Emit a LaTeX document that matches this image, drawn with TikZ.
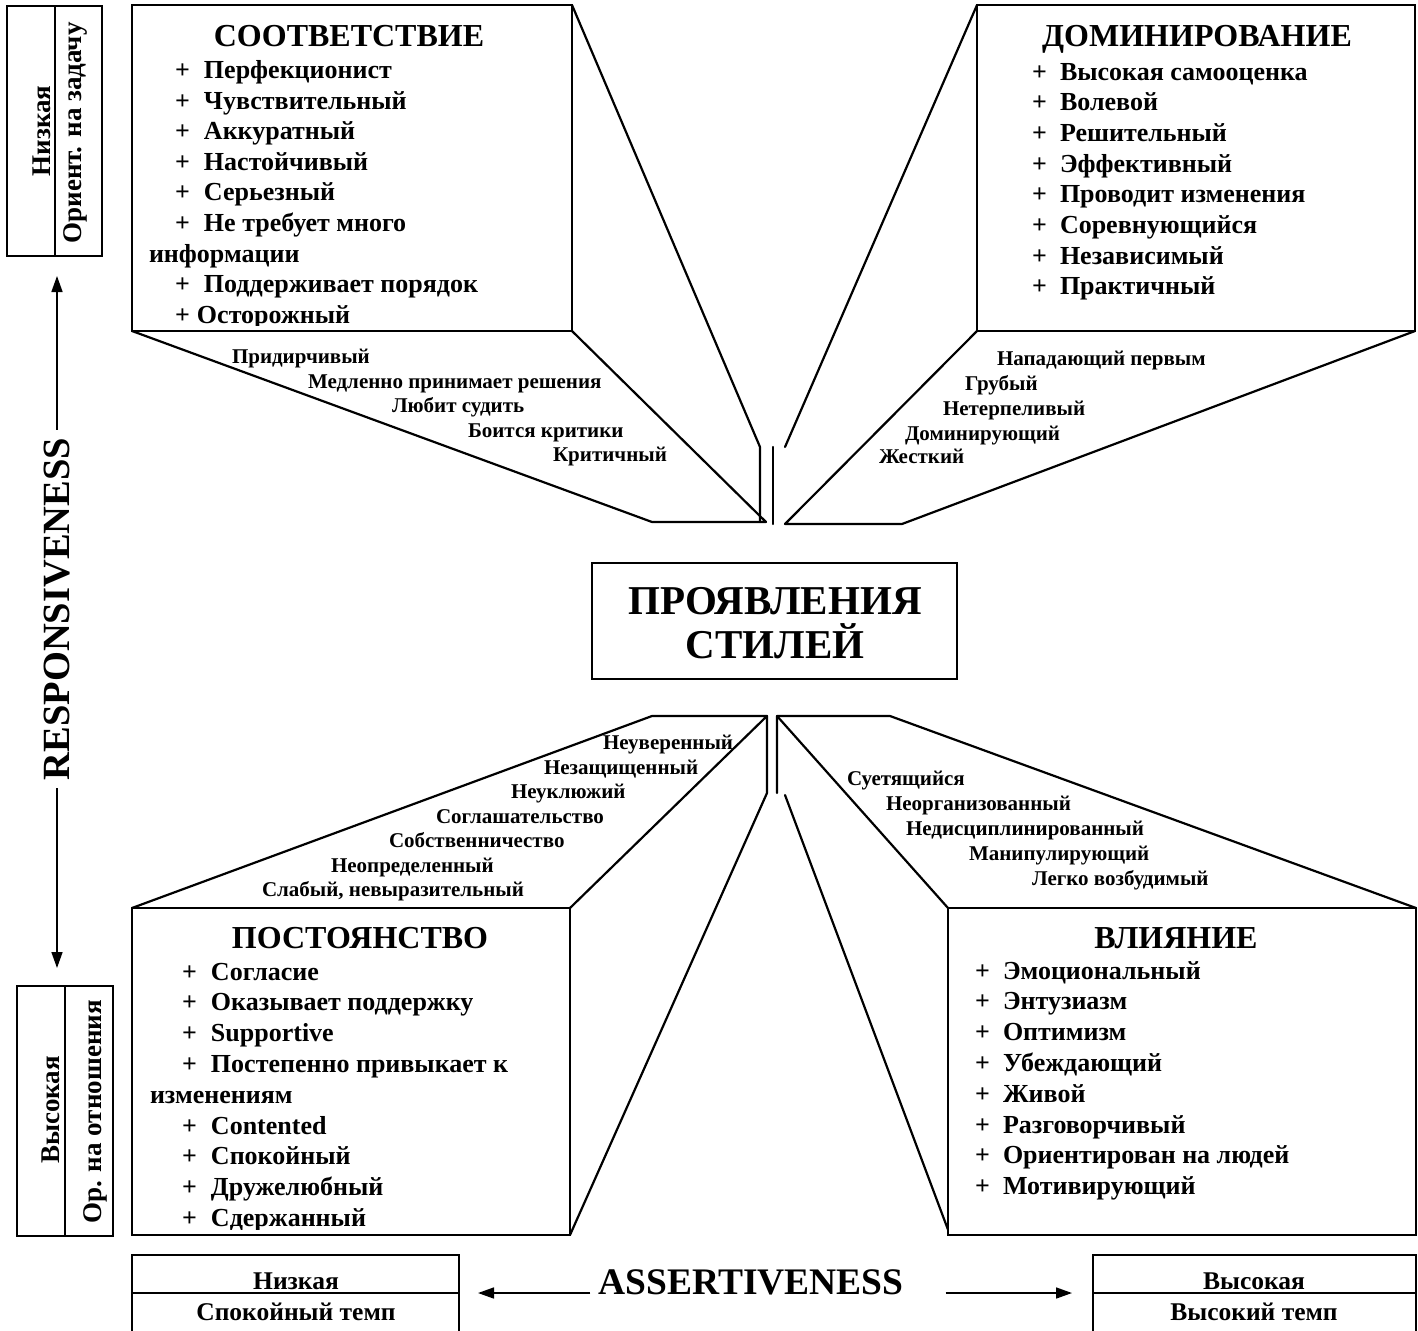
\documentclass[tikz,border=0pt]{standalone}
\usepackage{fontspec}
\setmainfont{Liberation Serif}
\usetikzlibrary{arrows.meta}
\newcommand{\plusw}[1]{\makebox[#1][l]{+}}
\begin{document}
\begin{tikzpicture}[x=1pt,y=-1pt,
  every node/.style={inner sep=0pt, outer sep=0pt},
  ln/.style={line width=2.2pt, line cap=round, line join=round},
  frame/.style={draw, line width=2.6pt},
  thin/.style={draw, line width=1.6pt},
  item/.style={font=\fontsize{26}{30}\selectfont\bfseries, anchor=base west},
  lbl/.style={font=\fontsize{21}{24}\selectfont\bfseries, anchor=base west},
  head/.style={font=\fontsize{32}{36}\selectfont\bfseries, anchor=base},
  ax/.style={font=\fontsize{37.5}{40}\selectfont\bfseries, anchor=base},
  side/.style={font=\fontsize{27}{30}\selectfont\bfseries, rotate=90, anchor=base},
  foot/.style={font=\fontsize{25.5}{28}\selectfont\bfseries, anchor=base},
  arr/.style={line width=1.6pt, -{Triangle[length=16pt,width=11pt]}}
]
\useasboundingbox (0,0) rectangle (1418,1330);

% ---------- perspective lines ----------
% top-left
\draw[ln] (132,331) -- (652,522) -- (766,522) -- (572,331);
\draw[ln] (572,5) -- (760,447) -- (760,522);
% top-right
\draw[ln] (977,5) -- (785,447);
\draw[ln] (773,447) -- (773,524);
\draw[ln] (977,331) -- (785,524) -- (902,524) -- (1415,331);
% bottom-left
\draw[ln] (132,908) -- (652,716) -- (767,716) -- (570,908);
\draw[ln] (767,716) -- (767,793) -- (570,1235);
% bottom-right
\draw[ln] (777,793) -- (777,716) -- (890,716) -- (1416,908);
\draw[ln] (777,716) -- (948,908);
\draw[ln] (785,795) -- (950,1235);

% ---------- main boxes ----------
\draw[frame, fill=white] (132,5) rectangle (572,331);
\draw[frame, fill=white] (977,5) rectangle (1415,331);
\draw[frame, fill=white] (132,908) rectangle (570,1235);
\draw[frame, fill=white] (948,908) rectangle (1416,1235);
\draw[frame] (592,563) rectangle (957,679);

% ---------- top-left box text ----------
\begin{scope}
\clip (132,5) rectangle (572,325);
\node[head] (cH) at (349,46.7) {СООТВЕТСТВИЕ};
\node[item] (c1) at (175,78.5) {\plusw{29pt}Перфекционист};
\node[item] (c2) at (175,109.1) {\plusw{29pt}Чувствительный};
\node[item] (c3) at (175,139.7) {\plusw{29pt}Аккуратный};
\node[item] (c4) at (175,170.3) {\plusw{29pt}Настойчивый};
\node[item] (c5) at (175,200.9) {\plusw{29pt}Серьезный};
\node[item] (c6) at (175,231.5) {\plusw{29pt}Не требует много};
\node[item] (c7) at (149,262.1) {информации};
\node[item] (c8) at (175,292.7) {\plusw{29pt}Поддерживает порядок};
\node[item] (c9) at (175,323.3) {\plusw{22pt}Осторожный};
\end{scope}

% ---------- top-right box text ----------
\node[head] (dH) at (1197,46.7) {ДОМИНИРОВАНИЕ};
\node[item] (d1) at (1032,80) {\plusw{28pt}Высокая самооценка};
\node[item] (d2) at (1032,110.7) {\plusw{28pt}Волевой};
\node[item] (d3) at (1032,141.4) {\plusw{28pt}Решительный};
\node[item] (d4) at (1032,172.1) {\plusw{28pt}Эффективный};
\node[item] (d5) at (1032,202.8) {\plusw{28pt}Проводит изменения};
\node[item] (d6) at (1032,233.5) {\plusw{28pt}Соревнующийся};
\node[item] (d7) at (1032,264.2) {\plusw{28pt}Независимый};
\node[item] (d8) at (1032,294.9) {\plusw{28pt}Практичный};

% ---------- bottom-left box text ----------
\begin{scope}
\clip (132,908) rectangle (570,1229);
\node[head] (pH) at (360,948) {ПОСТОЯНСТВО};
\node[item] (p1) at (182,980) {\plusw{29pt}Согласие};
\node[item] (p2) at (182,1010.8) {\plusw{29pt}Оказывает поддержку};
\node[item] (p3) at (182,1041.6) {\plusw{29pt}Supportive};
\node[item] (p4) at (182,1072.4) {\plusw{29pt}Постепенно привыкает к};
\node[item] (p5) at (150,1103.2) {изменениям};
\node[item] (p6) at (182,1134) {\plusw{29pt}Contented};
\node[item] (p7) at (182,1164.8) {\plusw{29pt}Спокойный};
\node[item] (p8) at (182,1195.6) {\plusw{29pt}Дружелюбный};
\node[item] (p9) at (182,1226.4) {\plusw{29pt}Сдержанный};
\end{scope}

% ---------- bottom-right box text ----------
\node[head] (vH) at (1176,948) {ВЛИЯНИЕ};
\node[item] (v1) at (975,979) {\plusw{28pt}Эмоциональный};
\node[item] (v2) at (975,1009.8) {\plusw{28pt}Энтузиазм};
\node[item] (v3) at (975,1040.6) {\plusw{28pt}Оптимизм};
\node[item] (v4) at (975,1071.4) {\plusw{28pt}Убеждающий};
\node[item] (v5) at (975,1102.2) {\plusw{28pt}Живой};
\node[item] (v6) at (975,1133) {\plusw{28pt}Разговорчивый};
\node[item] (v7) at (975,1163.8) {\plusw{28pt}Ориентирован на людей};
\node[item] (v8) at (975,1194.6) {\plusw{28pt}Мотивирующий};

% ---------- trapezoid labels ----------
\node[lbl] (tl1) at (232,363) {Придирчивый};
\node[lbl] (tl2) at (308,388) {Медленно принимает решения};
\node[lbl] (tl3) at (392,412) {Любит судить};
\node[lbl] (tl4) at (468,437) {Боится критики};
\node[lbl] (tl5) at (553,461) {Критичный};

\node[lbl] (tr1) at (997,365) {Нападающий первым};
\node[lbl] (tr2) at (965,390) {Грубый};
\node[lbl] (tr3) at (943,415) {Нетерпеливый};
\node[lbl] (tr4) at (905,440) {Доминирующий};
\node[lbl] (tr5) at (879,463) {Жесткий};

\node[lbl] (bl1) at (603,749) {Неуверенный};
\node[lbl] (bl2) at (544,774) {Незащищенный};
\node[lbl] (bl3) at (511,798) {Неуклюжий};
\node[lbl] (bl4) at (436,823) {Соглашательство};
\node[lbl] (bl5) at (389,847) {Собственничество};
\node[lbl] (bl6) at (331,872) {Неопределенный};
\node[lbl] (bl7) at (262,896) {Слабый, невыразительный};

\node[lbl] (br1) at (847,785) {Суетящийся};
\node[lbl] (br2) at (886,810) {Неорганизованный};
\node[lbl] (br3) at (906,835) {Недисциплинированный};
\node[lbl] (br4) at (969,860) {Манипулирующий};
\node[lbl] (br5) at (1032,885) {Легко возбудимый};

% ---------- centre ----------
\node[font=\fontsize{41}{44}\selectfont\bfseries, align=center] (ctr) at (775,623) {ПРОЯВЛЕНИЯ\\СТИЛЕЙ};

% ---------- vertical axis ----------
\draw[frame] (7,6) rectangle (102,256);
\draw[thin] (55,6) -- (55,256);
\node[side] (lowR) at (50,131) {Низкая};
\node[side] (lowT) at (81,133) {Ориент. на задачу};

\draw[frame] (17,986) rectangle (113,1236);
\draw[thin] (65,986) -- (65,1236);
\node[side] (hiR) at (59,1110) {Высокая};
\node[side] (hiT) at (101,1112) {Ор. на отношения};

\node[font=\fontsize{38.5}{40}\selectfont\bfseries, rotate=90] (resp) at (57,609) {RESPONSIVENESS};
\coordinate (rUp) at (57,276);
\coordinate (rDn) at (57,968);
\draw[arr, shorten <=8pt] (resp.east) -- (rUp);
\draw[arr, shorten <=8pt] (resp.west) -- (rDn);

% ---------- horizontal axis ----------
\draw[frame] (132,1340) -- (132,1255) -- (459,1255) -- (459,1340);
\draw[thin] (132,1293) -- (459,1293);
\node[foot] (lowA) at (296,1289) {Низкая};
\node[foot] (lowP) at (296,1320) {Спокойный темп};

\draw[frame] (1093,1340) -- (1093,1255) -- (1416,1255) -- (1416,1340);
\draw[thin] (1093,1293) -- (1416,1293);
\node[foot] (hiA) at (1254,1289) {Высокая};
\node[foot] (hiP) at (1254,1320) {Высокий темп};

\node[ax] (asr) at (751,1294) {ASSERTIVENESS};
\coordinate (aL) at (478,1293);
\coordinate (aR) at (1072,1293);
\draw[arr] ([xshift=-8pt,yshift=1pt]asr.base west) -- (aL);
\draw[arr] ([xshift=42pt,yshift=1pt]asr.base east) -- (aR);
\end{tikzpicture}
\end{document}
